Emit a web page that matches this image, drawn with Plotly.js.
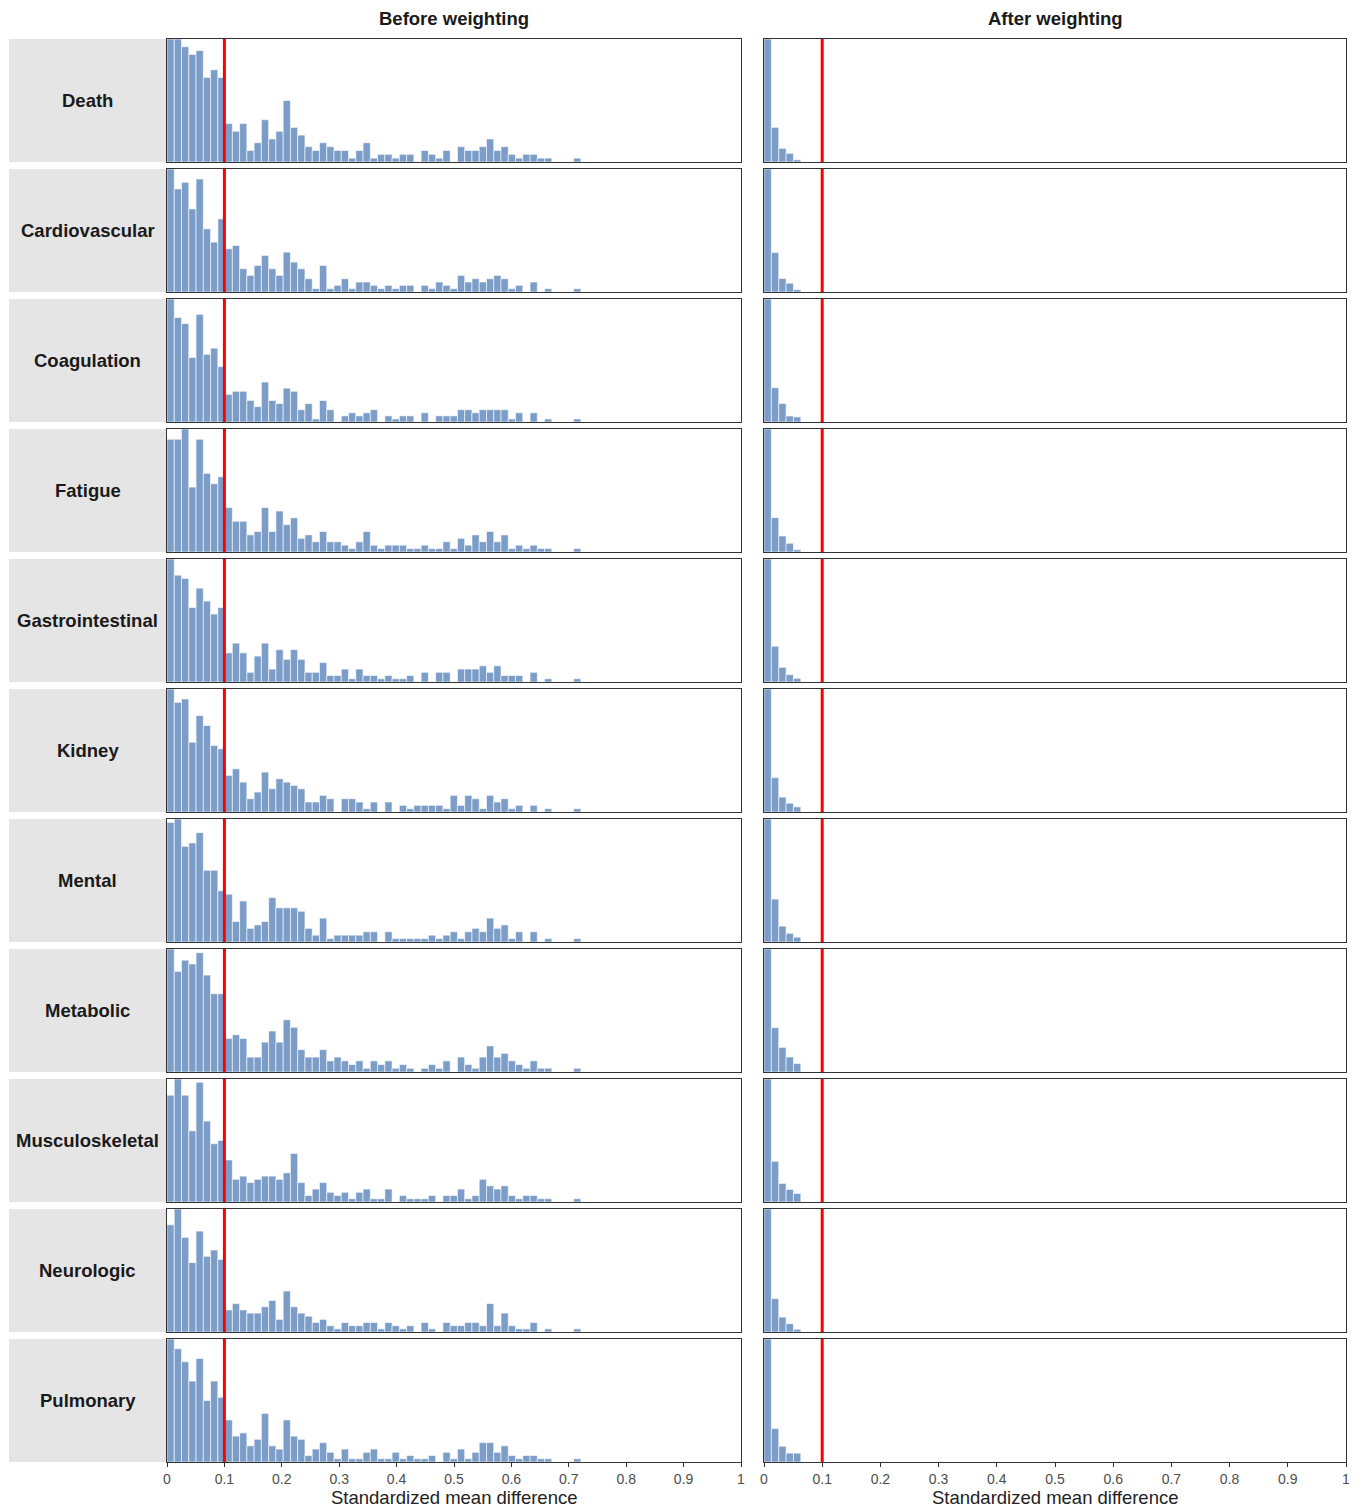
<!DOCTYPE html>
<html>
<head>
<meta charset="utf-8">
<script src="https://cdn.plot.ly/plotly-3.0.1.min.js"></script>
<style>html,body{margin:0;padding:0;background:#fff;}#chart{width:1363px;height:1507px;}</style>
</head>
<body>
<div id="chart"></div>
<script>
// ---------- DATA ----------
const binWidth = 0.01265;           // histogram bin width (SMD units)
const threshold = 0.1;              // red reference line
const categories = ['Death','Cardiovascular','Coagulation','Fatigue','Gastrointestinal','Kidney','Mental','Metabolic','Musculoskeletal','Neurologic','Pulmonary'];
const columnTitles = ['Before weighting','After weighting'];
const tickVals = [0,0.1,0.2,0.3,0.4,0.5,0.6,0.7,0.8,0.9,1];
const tickText = ['0','0.1','0.2','0.3','0.4','0.5','0.6','0.7','0.8','0.9','1'];
const axisTitle = 'Standardized mean difference';

// counts per bin, before weighting
const beforeDeath = [32,32,30,28,29,22,24,22,10,8,10,3,5,11,6,8,16,9,7,4,3,5,4,3,3,1,3,5,1,2,2,1,2,2,0,3,2,1,3,0,4,3,3,4,6,3,4,2,1,2,2,1,1,0,0,0,1];
const beforeCardiovascular = [37,31,33,25,34,19,15,22,13,14,7,5,8,11,7,5,12,9,7,4,1,8,1,2,4,1,3,3,2,1,2,1,2,2,0,2,1,3,2,1,5,3,4,3,4,5,4,1,2,0,3,0,1,0,0,0,1];
const beforeCoagulation = [40,34,32,21,35,22,24,18,9,10,10,7,5,13,7,6,11,10,4,6,1,7,4,0,2,3,2,3,4,0,2,1,2,2,0,3,0,2,2,2,4,4,3,4,4,4,4,1,3,0,3,0,1,0,0,0,1];
const beforeFatigue = [33,33,36,19,33,23,20,22,13,9,9,5,6,13,6,12,8,10,4,5,3,6,3,3,2,1,3,6,2,1,2,2,2,1,1,2,1,1,3,1,4,2,5,3,6,3,5,1,2,1,2,1,1,0,0,0,1];
const beforeGastrointestinal = [38,33,32,23,29,25,21,23,9,12,9,3,8,12,4,10,7,10,7,3,3,6,2,2,4,1,4,2,2,1,2,1,1,2,0,3,0,3,3,0,4,4,4,5,3,5,2,2,2,0,3,0,1,0,0,0,1];
const beforeKidney = [37,33,34,21,29,26,20,19,11,13,9,4,6,12,7,10,9,8,7,3,3,5,4,0,4,4,3,1,3,0,3,0,2,1,2,2,2,2,1,5,2,5,4,1,5,3,4,1,2,0,2,0,1,0,0,0,1];
const beforeMental = [35,36,28,29,32,21,21,15,14,6,12,4,5,6,13,10,10,10,9,4,2,7,1,2,2,2,2,3,3,0,3,1,1,1,1,1,2,1,2,3,1,3,4,3,7,4,5,1,3,0,3,0,1,0,0,0,1];
const beforeMetabolic = [33,27,30,29,32,26,21,21,9,10,9,4,4,8,11,8,14,12,6,4,4,6,3,4,3,2,3,1,3,2,3,1,2,1,0,1,2,1,3,0,4,2,1,4,7,4,5,3,2,1,3,1,1,0,0,0,1];
const beforeMusculoskeletal = [33,38,33,22,37,25,18,19,13,7,8,6,7,8,8,7,9,15,6,2,4,6,3,2,3,1,3,4,1,1,4,0,2,1,1,1,2,0,2,2,4,1,2,7,5,4,5,2,1,2,2,1,1,0,0,0,1];
const beforeNeurologic = [34,39,30,22,32,24,26,23,7,9,7,6,6,8,10,4,13,8,6,5,3,4,2,1,3,2,2,3,3,1,3,2,1,2,0,3,1,0,3,2,2,3,3,2,9,2,6,2,1,1,3,0,1,0,0,0,1];
const beforePulmonary = [38,35,31,25,32,19,25,20,13,8,9,5,7,15,5,4,13,8,7,2,4,6,3,1,4,1,1,3,4,1,1,3,1,2,1,1,2,0,3,1,4,1,3,6,6,3,5,2,1,2,2,1,1,0,0,0,1];

// counts per bin, after weighting
const afterDeath = [270,76,30,19,5];
const afterCardiovascular = [265,85,29,19,5];
const afterCoagulation = [265,74,40,13,11];
const afterFatigue = [268,75,35,19,5];
const afterGastrointestinal = [268,78,32,16,8];
const afterKidney = [265,74,32,19,11];
const afterMental = [255,89,33,18,10];
const afterMetabolic = [230,83,46,28,16];
const afterMusculoskeletal = [245,81,37,25,17];
const afterNeurologic = [265,72,32,18,6];
const afterPulmonary = [265,72,34,19,19];

const beforeCounts = [beforeDeath,beforeCardiovascular,beforeCoagulation,beforeFatigue,beforeGastrointestinal,beforeKidney,beforeMental,beforeMetabolic,beforeMusculoskeletal,beforeNeurologic,beforePulmonary];
const afterCounts = [afterDeath,afterCardiovascular,afterCoagulation,afterFatigue,afterGastrointestinal,afterKidney,afterMental,afterMetabolic,afterMusculoskeletal,afterNeurologic,afterPulmonary];

// ---------- LAYOUT (pixels) ----------
const W = 1363, H = 1507;
const colX = [[167,741],[764,1346]];
const stripX = [9,166];
const rowTop0 = 39, rowStep = 130, panelH = 123;
const barColor = '#7b9dc8';
const fontFam = '"Liberation Sans", Arial, sans-serif';
const textSize = 18.5;

function px2x(p){ return p / W; }
function px2y(p){ return 1 - p / H; }

const traces = [];
const layout = {
  width: W, height: H,
  margin: {l:0,r:0,t:0,b:0},
  paper_bgcolor: '#ffffff', plot_bgcolor: '#ffffff',
  showlegend: false,
  bargap: 0,
  font: {family: fontFam, color: '#000'},
  shapes: [], annotations: []
};

const nRows = categories.length;
for (let r = 0; r < nRows; r++) {
  const top = rowTop0 + rowStep * r, bot = top + panelH;
  const isBottom = (r === nRows - 1);
  // strip
  layout.shapes.push({type:'rect', xref:'paper', yref:'paper', x0:px2x(stripX[0]), x1:px2x(stripX[1]), y0:px2y(bot), y1:px2y(top), fillcolor:'#e5e5e5', line:{width:0}, layer:'below'});
  layout.annotations.push({xref:'paper', yref:'paper', x:px2x((stripX[0]+stripX[1])/2), y:px2y((top+bot)/2), text:'<b>'+categories[r]+'</b>', showarrow:false, xanchor:'center', yanchor:'middle', font:{size:textSize, family:fontFam, color:'#1a1a1a'}});
  for (let c = 0; c < 2; c++) {
    const n = r * 2 + c + 1;
    const xs = n === 1 ? '' : String(n);
    const counts = c === 0 ? beforeCounts[r] : afterCounts[r];
    const centers = counts.map((_, k) => (k + 0.5) * binWidth);
    traces.push({type:'bar', x: centers, y: counts, width: binWidth, xaxis:'x'+xs, yaxis:'y'+xs,
      marker:{color:barColor, line:{color:'rgba(255,255,255,0.75)', width:0.8}}, hoverinfo:'x+y'});
    const ymax = Math.max.apply(null, counts);
    layout['xaxis'+xs] = {
      domain:[px2x(colX[c][0]), px2x(colX[c][1])], anchor:'y'+xs, range:[0,1],
      showgrid:false, zeroline:false, showline:true, mirror:true, linecolor:'#333333', linewidth:1,
      tickmode:'array', tickvals:tickVals, ticktext:tickText,
      ticks: isBottom ? 'outside' : '', ticklen:4, tickcolor:'#333333', tickwidth:1,
      showticklabels:isBottom, tickfont:{size:14, color:'#4d4d4d', family:fontFam}
    };
    layout['yaxis'+xs] = {
      domain:[px2y(bot), px2y(top)], anchor:'x'+xs, range:[0, ymax],
      showgrid:false, zeroline:false, showline:true, mirror:true, linecolor:'#333333', linewidth:1,
      ticks:'', showticklabels:false
    };
    layout.shapes.push({type:'line', xref:'x'+xs, yref:'y'+xs+' domain', x0:threshold, x1:threshold, y0:0, y1:1, line:{color:'#ff0000', width:3}});
  }
}
// column titles and axis titles
for (let c = 0; c < 2; c++) {
  const cx = (colX[c][0] + colX[c][1]) / 2;
  layout.annotations.push({xref:'paper', yref:'paper', x:px2x(cx), y:px2y(18), text:'<b>'+columnTitles[c]+'</b>', showarrow:false, xanchor:'center', yanchor:'middle', font:{size:textSize, family:fontFam, color:'#1a1a1a'}});
  layout.annotations.push({xref:'paper', yref:'paper', x:px2x(cx), y:px2y(1497), text:axisTitle, showarrow:false, xanchor:'center', yanchor:'middle', font:{size:textSize, family:fontFam, color:'#222'}});
}

Plotly.newPlot('chart', traces, layout, {staticPlot:true, displayModeBar:false});
</script>
</body>
</html>
